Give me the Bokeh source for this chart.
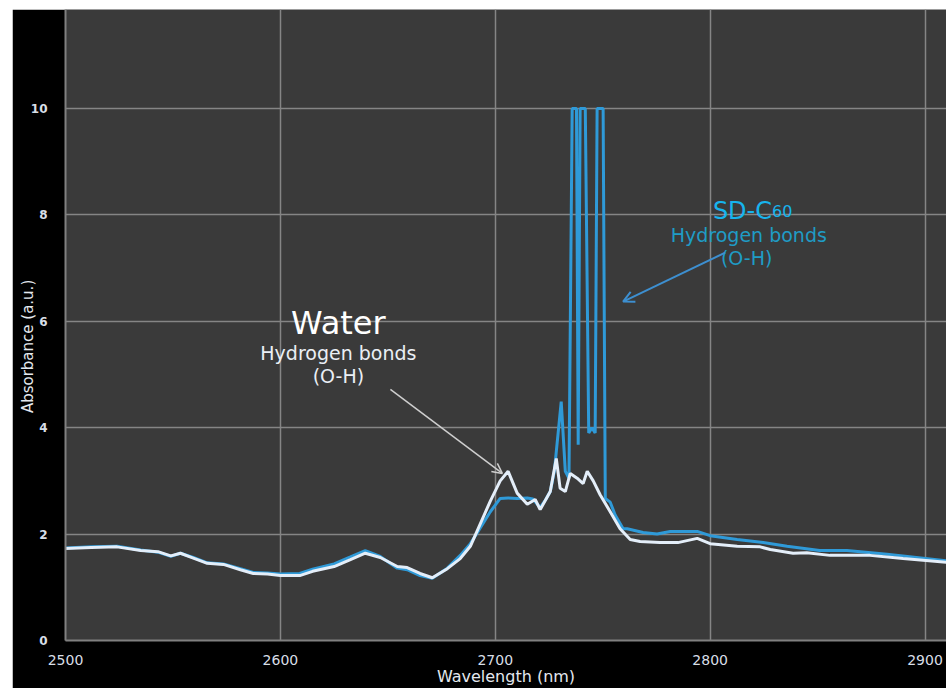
import math
from bokeh.plotting import figure
from bokeh.models import Label, Arrow, OpenHead, FixedTicker
from bokeh.embed import file_html
from bokeh.resources import INLINE

# ---- data ----
water_x = [2500, 2512, 2524, 2535, 2543, 2549, 2553.5, 2559.5, 2566, 2573.5, 2581.4, 2587.4,
           2594, 2600, 2609, 2615, 2625, 2632.6, 2639.5, 2646.5, 2654.4, 2659, 2665, 2670.7,
           2677.7, 2683.7, 2688.4, 2692, 2697.7, 2702.3, 2706, 2710.2, 2714.9, 2718.6, 2720.9,
           2725.6, 2728.4, 2730.2, 2732.6, 2734.9, 2738.1, 2740.9, 2742.8, 2745.6, 2748.8,
           2753.5, 2758.1, 2762.8, 2767.4, 2776.7, 2785, 2794, 2800, 2812.6, 2823.3, 2828,
           2838.6, 2845, 2855.8, 2874.4, 2889.8, 2910]
water_y = [1.73, 1.75, 1.76, 1.69, 1.67, 1.59, 1.64, 1.55, 1.45, 1.43, 1.33, 1.26,
           1.25, 1.22, 1.22, 1.30, 1.39, 1.52, 1.64, 1.56, 1.39, 1.37, 1.26, 1.18,
           1.35, 1.54, 1.77, 2.10, 2.62, 3.00, 3.18, 2.77, 2.56, 2.65, 2.46,
           2.80, 3.42, 2.86, 2.80, 3.14, 3.05, 2.95, 3.18, 3.00, 2.74,
           2.42, 2.10, 1.90, 1.86, 1.84, 1.84, 1.92, 1.82, 1.77, 1.76, 1.71,
           1.64, 1.65, 1.60, 1.60, 1.54, 1.47]

c60_x = [2500, 2512, 2524, 2535, 2543, 2549, 2553.5, 2559.5, 2566, 2573.5, 2581.4, 2587.4,
         2594, 2600, 2609, 2615, 2625, 2632.6, 2639.5, 2646.5, 2654.4, 2659, 2665, 2670.7,
         2677.7, 2683.7, 2688.4, 2692, 2697.7, 2702.3, 2706, 2710.2, 2714.9, 2717.5, 2720.9,
         2723.5, 2725.6, 2727.5, 2730.7, 2732.6, 2734.3, 2735.8, 2737.8, 2738.6, 2739.5,
         2741.9, 2743.5, 2745, 2746.5, 2747.4, 2750.2, 2751.2, 2753.5, 2755.8, 2759.5,
         2761.4, 2768.8, 2775.3, 2781.4, 2794, 2800, 2812.6, 2824.7, 2835.8, 2851,
         2863.7, 2882.3, 2910]
c60_y = [1.74, 1.76, 1.77, 1.70, 1.66, 1.58, 1.64, 1.56, 1.46, 1.44, 1.35, 1.28,
         1.27, 1.25, 1.26, 1.34, 1.44, 1.57, 1.69, 1.58, 1.36, 1.33, 1.22, 1.17,
         1.36, 1.60, 1.82, 2.05, 2.42, 2.67, 2.68, 2.67, 2.68, 2.66, 2.50,
         2.65, 2.80, 3.18, 4.49, 3.18, 3.05, 10.0, 10.0, 3.68, 10.0,
         10.0, 3.90, 4.00, 3.90, 10.0, 10.0, 2.67, 2.60, 2.36, 2.10,
         2.10, 2.03, 2.00, 2.05, 2.05, 1.97, 1.90, 1.84, 1.77, 1.69,
         1.69, 1.62, 1.50]

x_ticks = [2500, 2600, 2700, 2800, 2900]
y_ticks = [0, 2, 4, 6, 8, 10]

p = figure(width=934, height=679, x_range=(2500, 2910), y_range=(0, 11.86),
           output_backend="svg", toolbar_location=None,
           background_fill_color="#3a3a3a", border_fill_color="#000000",
           min_border_left=53, min_border_right=0, min_border_top=0, min_border_bottom=48,
           x_axis_label="Wavelength (nm)",
           y_axis_label="Absorbance (a.u.)" + "\u00a0" * 9)
p.margin = (9, 0, 0, 12)
p.outline_line_color = None

for ax, ticks in ((p.xaxis, x_ticks), (p.yaxis, y_ticks)):
    ax.ticker = FixedTicker(ticks=ticks)
    ax.axis_line_color = "#808080"
    ax.axis_line_width = 2
    ax.major_tick_line_color = None
    ax.minor_tick_line_color = None
    ax.major_label_text_font = "DejaVu Sans"
    ax.axis_label_text_font = "DejaVu Sans"
    ax.axis_label_text_font_style = "normal"
    ax.axis_label_text_color = "#e4e8ee"

p.xaxis.major_label_text_font_size = "14px"
p.xaxis.major_label_text_color = "#d8dee6"
p.xaxis.major_label_standoff = 8
p.xaxis.axis_label_text_font_size = "16px"
p.xaxis.axis_label_standoff = -1
p.yaxis.major_label_text_font_size = "12px"
p.yaxis.major_label_text_font_style = "bold"
p.yaxis.major_label_text_color = "#d8dee6"
p.yaxis.major_label_standoff = 12
p.yaxis.axis_label_text_font_size = "15px"
p.yaxis.axis_label_standoff = -9

p.xgrid.ticker = FixedTicker(ticks=x_ticks)
p.ygrid.ticker = FixedTicker(ticks=y_ticks)
p.grid.grid_line_color = "#858585"
p.grid.grid_line_width = 1.5

p.line(c60_x, c60_y, line_color="#2f9ad8", line_width=3)
p.line(water_x, water_y, line_color="#e4eef9", line_width=3)

# Water annotation
p.add_layout(Label(x=2627, y=5.96, text="Water", text_align="center",
                   text_baseline="alphabetic", text_font="DejaVu Sans",
                   text_font_size="32px", text_color="#ffffff"))
p.add_layout(Label(x=2627, y=5.41, text="Hydrogen bonds", text_align="center",
                   text_baseline="alphabetic", text_font="DejaVu Sans",
                   text_font_size="19px", text_color="#eaeff5"))
p.add_layout(Label(x=2627, y=4.98, text="(O-H)", text_align="center",
                   text_baseline="alphabetic", text_font="DejaVu Sans",
                   text_font_size="19px", text_color="#eaeff5"))
p.add_layout(Arrow(end=OpenHead(size=10, line_color="#cfcfcf", line_width=1.5),
                   x_start=2651.2, y_start=4.72, x_end=2703.3, y_end=3.14,
                   line_color="#cfcfcf", line_width=1.5))

# SD-C60 annotation
p.add_layout(Label(x=2828.8, y=8.08, text="SD-C", text_align="right",
                   text_baseline="alphabetic", text_font="DejaVu Sans",
                   text_font_size="24px", text_color="#17b4ee"))
p.add_layout(Label(x=2828.8, y=8.08, text="60", text_align="left",
                   text_baseline="alphabetic", text_font="DejaVu Sans",
                   text_font_size="16px", text_color="#17b4ee"))
p.add_layout(Label(x=2818, y=7.63, text="Hydrogen bonds", text_align="center",
                   text_baseline="alphabetic", text_font="DejaVu Sans",
                   text_font_size="19px", text_color="#1f9cc6"))
p.add_layout(Label(x=2817, y=7.18, text="(O-H)", text_align="center",
                   text_baseline="alphabetic", text_font="DejaVu Sans",
                   text_font_size="19px", text_color="#1f9cc6"))
p.add_layout(Arrow(end=OpenHead(size=11, line_color="#3d8fd0", line_width=2),
                   x_start=2807, y_start=7.29, x_end=2759.5, y_end=6.37,
                   line_color="#3d8fd0", line_width=2))

open("out.html", "w").write(file_html(p, INLINE))
